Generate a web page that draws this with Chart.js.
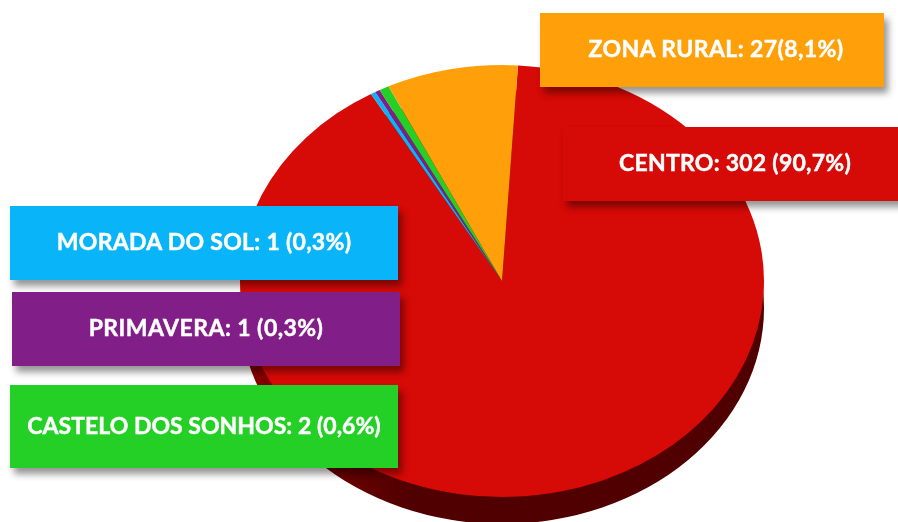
<!DOCTYPE html>
<html>
<head>
<meta charset="utf-8">
<script src="https://cdn.jsdelivr.net/npm/chart.js@4"></script>
<style>
    html, body { margin: 0; padding: 0; background: #fff; }
    #wrap { position: relative; width: 898px; height: 522px; overflow: hidden; }
    #grafic { position: absolute; left: 0; top: 0; }
    .caixa {
        position: absolute; display: flex; align-items: center; justify-content: center;
        box-sizing: border-box; padding-bottom: 4px;
        color: #fff; font: 700 23px Lato, sans-serif; white-space: nowrap;
        -webkit-text-stroke: 0.45px #fff;
        box-shadow: 4px 6px 7px rgba(0,0,0,.42);
    }
</style>
</head>
<body>
<div id="wrap"><canvas id="grafic" width="898" height="522"></canvas></div>
<script>
const categories = ['CENTRO', 'MORADA DO SOL', 'PRIMAVERA', 'CASTELO DOS SONHOS', 'ZONA RURAL'];
const values = [302, 1, 1, 2, 27];
const labelTexts = ['CENTRO: 302 (90,7%)', 'MORADA DO SOL: 1 (0,3%)', 'PRIMAVERA: 1 (0,3%)', 'CASTELO DOS SONHOS: 2 (0,6%)', 'ZONA RURAL: 27(8,1%)'];
const colors = ['#d60a06', '#0ab4f8', '#821e87', '#24d026', '#ffa00a'];

// label boxes: x, y, width, height (same order as categories)
const boxes = [[563, 127, 344, 74], [10, 206, 388, 74], [12, 292, 388, 74], [10, 385, 388, 83], [540, 13, 344, 74]];
// small tweaks so the Lato text fills the same width as the original font
const spacing = [0.26, 0.3, 0.45, 0.03, 0.4];
const shiftLeft = [0, 0, 0, 0, 8];

// the pie is squashed into an ellipse with some depth below
const pieCx = 502, pieCy = 281, pieRx = 262, pieRy = 216, pieDepth = 27;

const squash = {
    id: 'squash',
    beforeDatasetsDraw(chart) {
        const arc = chart.getDatasetMeta(0).data[0];
        const ctx = chart.ctx;
        const grad = ctx.createLinearGradient(pieCx - pieRx, 0, pieCx - 90, 0);
        grad.addColorStop(0, '#8c0000');
        grad.addColorStop(1, '#500000');
        ctx.fillStyle = grad;
        ctx.beginPath();
        ctx.ellipse(pieCx, pieCy + pieDepth, pieRx, pieRy, 0, 0, Math.PI * 2);
        ctx.fill();
        ctx.save();
        ctx.translate(pieCx, pieCy);
        ctx.scale(pieRx / arc.outerRadius, pieRy / arc.outerRadius);
        ctx.translate(-arc.x, -arc.y);
    },
    afterDatasetsDraw(chart) {
        chart.ctx.restore();
    }
};

new Chart(document.getElementById('grafic').getContext('2d'), {
    type: 'pie',
    data: {
        labels: categories,
        datasets: [{ data: values, backgroundColor: colors, borderWidth: 0 }]
    },
    options: {
        responsive: false,
        animation: false,
        rotation: 3.5,
        layout: { padding: 0 },
        plugins: { legend: { display: false }, tooltip: { enabled: false } }
    },
    plugins: [squash]
});

const wrap = document.getElementById('wrap');
labelTexts.forEach(function (text, i) {
    const b = boxes[i];
    const div = document.createElement('div');
    div.className = 'caixa';
    div.textContent = text;
    div.style.left = b[0] + 'px';
    div.style.top = b[1] + 'px';
    div.style.width = b[2] + 'px';
    div.style.height = b[3] + 'px';
    div.style.background = colors[i];
    div.style.letterSpacing = spacing[i] + 'px';
    div.style.paddingLeft = shiftLeft[i] + 'px';
    wrap.appendChild(div);
});
</script>
</body>
</html>
